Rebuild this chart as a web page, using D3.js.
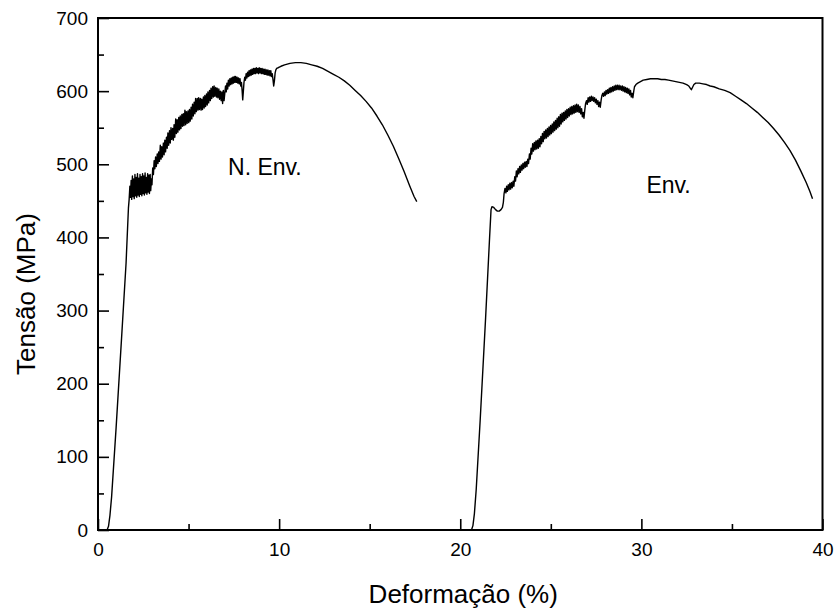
<!DOCTYPE html>
<html>
<head>
<meta charset="utf-8">
<script src="https://cdn.jsdelivr.net/npm/d3@7"></script>
<style>
  body { margin: 0; background: #fff; }
  svg { display: block; font-family: Arial, "Liberation Sans", sans-serif; }
  .tick text { font-size: 19px; fill: #000; }
  .tick line { stroke: #000; stroke-width: 1.6; }
</style>
</head>
<body>
<svg></svg>
<script>
// strain (%) / stress (MPa)
let xTicks = [0, 10, 20, 30, 40],
    yTicks = [0, 100, 200, 300, 400, 500, 600, 700];

let nEnvCurve = [
    [0.50,0],[0.58,5],[0.66,20],[0.75,45],[1.0,140],[1.3,262],[1.55,365],[1.68,440],[1.72,452],
    [1.76,470],[1.79,455],[1.83,478],[1.86,452],[1.90,484],[1.93,456],[1.97,480],[2.00,453],
    [2.04,486],[2.07,457],[2.11,482],[2.14,455],[2.18,487],[2.21,458],[2.25,481],[2.28,456],
    [2.32,486],[2.35,459],[2.39,483],[2.42,457],[2.46,487],[2.49,460],[2.53,484],[2.56,458],
    [2.60,488],[2.63,461],[2.67,482],[2.70,459],[2.74,487],[2.77,462],[2.81,485],[2.84,460],
    [2.88,486],[2.91,464],[2.95,480],[2.98,472],[3.02,495],[3.06,486],[3.10,505],[3.14,494],
    [3.18,510],[3.22,497],[3.27,514],[3.31,501],[3.35,517],[3.39,504],[3.44,526],[3.48,507],
    [3.52,524],[3.56,510],[3.61,529],[3.65,513],[3.69,533],[3.73,517],[3.78,537],[3.82,522],
    [3.86,543],[3.90,526],[3.95,546],[3.99,529],[4.03,550],[4.07,534],[4.12,549],[4.16,533],
    [4.20,554],[4.24,537],[4.29,562],[4.33,542],[4.37,561],[4.41,544],[4.46,564],[4.50,547],
    [4.54,566],[4.58,549],[4.63,568],[4.67,552],[4.71,569],[4.75,553],[4.80,574],[4.84,554],
    [4.88,572],[4.92,556],[4.97,573],[5.01,557],[5.05,575],[5.09,559],[5.14,578],[5.18,562],
    [5.22,582],[5.26,566],[5.31,585],[5.35,569],[5.39,590],[5.43,572],[5.48,590],[5.52,574],
    [5.56,591],[5.60,575],[5.65,590],[5.69,574],[5.73,589],[5.77,575],[5.82,592],[5.86,577],
    [5.90,594],[5.94,579],[5.99,596],[6.03,581],[6.07,599],[6.11,584],[6.16,601],[6.20,587],
    [6.24,604],[6.28,590],[6.33,606],[6.37,592],[6.41,607],[6.45,593],[6.50,605],[6.54,592],
    [6.58,604],[6.62,591],[6.67,603],[6.71,589],[6.75,600],[6.80,587],[6.84,599],[6.88,583],
    [6.92,601],[6.96,587],[7.00,597],[7.04,607],[7.08,599],[7.12,611],[7.16,603],[7.20,615],
    [7.24,607],[7.28,617],[7.32,609],[7.36,618],[7.40,610],[7.44,619],[7.48,611],[7.52,620],
    [7.56,612],[7.60,620],[7.64,612],[7.68,619],[7.72,611],[7.76,618],[7.80,610],[7.84,617],
    [7.88,607],[7.92,612],[7.96,600],[7.99,588],[8.02,598],[8.06,612],[8.10,619],[8.14,615],
    [8.18,624],[8.22,618],[8.26,626],[8.30,620],[8.34,628],[8.38,621],[8.42,629],[8.46,622],
    [8.50,630],[8.54,623],[8.58,631],[8.62,624],[8.66,631],[8.70,624],[8.74,632],[8.78,625],
    [8.82,631],[8.86,624],[8.90,632],[8.94,625],[8.98,631],[9.02,624],[9.06,631],[9.10,624],
    [9.14,630],[9.18,623],[9.22,630],[9.26,623],[9.30,629],[9.34,622],[9.38,629],[9.42,622],
    [9.46,628],[9.50,621],[9.54,628],[9.58,620],[9.62,624],[9.66,616],[9.70,607],[9.74,614],
    [9.78,625],[9.82,629],[9.86,631],[9.95,632],[10.1,634],[10.3,636],[10.6,638],[10.9,639],
    [11.2,639],[11.5,638],[11.8,636],[12.1,634],[12.4,631],[12.7,627],[13.0,623],[13.3,619],
    [13.6,614],[13.9,608],[14.2,601],[14.5,594],[14.8,586],[15.1,577],[15.4,566],[15.7,554],
    [16.0,540],[16.3,525],[16.6,508],[16.9,490],[17.2,471],[17.45,456],[17.6,449]
];

let envCurve = [
    [20.62,0],[20.70,6],[20.78,22],[20.88,55],[21.1,150],[21.4,290],[21.62,400],[21.70,438],
    [21.75,442],[21.85,441],[21.95,438],[22.05,436],[22.15,436],[22.25,438],[22.33,441],
    [22.38,448],[22.42,460],[22.47,467],[22.52,461],[22.56,470],[22.60,463],[22.65,472],
    [22.69,465],[22.74,474],[22.78,466],[22.83,475],[22.87,468],[22.92,477],[22.96,470],
    [23.01,483],[23.05,477],[23.10,491],[23.14,483],[23.19,494],[23.23,487],[23.28,497],
    [23.32,489],[23.37,499],[23.41,492],[23.46,501],[23.50,494],[23.55,503],[23.59,496],
    [23.64,504],[23.68,497],[23.73,507],[23.77,501],[23.82,514],[23.86,507],[23.91,522],
    [23.95,514],[24.00,528],[24.04,518],[24.09,530],[24.13,520],[24.18,532],[24.22,521],
    [24.27,533],[24.31,522],[24.36,535],[24.40,524],[24.45,538],[24.49,528],[24.54,542],
    [24.58,531],[24.63,545],[24.67,535],[24.72,547],[24.76,536],[24.81,549],[24.85,538],
    [24.90,551],[24.94,540],[24.99,553],[25.03,542],[25.08,555],[25.12,544],[25.17,558],
    [25.21,546],[25.26,560],[25.30,548],[25.35,563],[25.39,550],[25.44,565],[25.48,552],
    [25.53,568],[25.57,555],[25.62,570],[25.66,558],[25.71,571],[25.75,560],[25.80,573],
    [25.84,562],[25.89,575],[25.93,564],[25.98,576],[26.02,566],[26.07,578],[26.11,568],
    [26.16,579],[26.20,569],[26.25,580],[26.29,570],[26.34,581],[26.38,571],[26.43,582],
    [26.47,572],[26.52,581],[26.56,571],[26.61,579],[26.65,569],[26.70,576],[26.74,565],
    [26.79,571],[26.83,563],[26.88,575],[26.92,583],[26.97,587],[27.01,582],[27.06,591],
    [27.10,585],[27.15,592],[27.19,586],[27.24,593],[27.28,587],[27.33,592],[27.37,586],
    [27.42,591],[27.46,584],[27.51,589],[27.55,582],[27.60,587],[27.64,579],[27.69,585],
    [27.73,578],[27.78,588],[27.82,594],[27.87,597],[27.91,593],[27.96,599],[28.00,594],
    [28.05,601],[28.09,596],[28.14,602],[28.18,597],[28.23,604],[28.27,598],[28.32,605],
    [28.36,599],[28.41,606],[28.45,600],[28.50,607],[28.54,601],[28.59,608],[28.63,602],
    [28.68,608],[28.72,602],[28.77,608],[28.81,602],[28.86,607],[28.90,601],[28.95,607],
    [28.99,600],[29.04,606],[29.08,599],[29.13,605],[29.17,598],[29.22,604],[29.26,597],
    [29.31,603],[29.35,595],[29.40,601],[29.44,592],[29.49,597],[29.53,591],[29.58,600],
    [29.62,606],[29.70,609],[29.80,611],[29.95,613],[30.1,615],[30.3,616],[30.5,617],
    [30.7,617],[30.9,617],[31.1,616],[31.3,616],[31.5,615],[31.7,614],[31.9,613],[32.1,612],
    [32.3,611],[32.5,609],[32.62,607],[32.70,604],[32.76,602],[32.82,605],[32.90,609],
    [33.0,611],[33.2,611],[33.4,610],[33.6,609],[33.8,607],[34.0,606],[34.3,603],[34.6,601],
    [34.9,598],[35.2,593],[35.5,588],[35.8,583],[36.1,577],[36.4,571],[36.7,564],[37.0,557],
    [37.3,549],[37.6,540],[37.9,530],[38.2,519],[38.5,506],[38.8,491],[39.1,475],[39.3,463],
    [39.45,453]
];

let curveLabels = [
    {text: "N. Env.", strain: 7.18, stress: 485},
    {text: "Env.", strain: 30.28, stress: 461}
];

let svg = d3.select("svg").attr("width", 838).attr("height", 612),
    margin = {top: 18, right: 15.5, bottom: 82, left: 98},
    width = svg.attr("width") - margin.left - margin.right,
    height = svg.attr("height") - margin.top - margin.bottom,
    g = svg.append("g").attr("transform", "translate(" + margin.left + "," + margin.top + ")");

let x = d3.scaleLinear().domain([0, 40]).range([0, width]),
    y = d3.scaleLinear().domain([0, 700]).range([height, 0]);

let line = d3.line()
    .x(function(d) { return x(d[0]); })
    .y(function(d) { return y(d[1]); });

// minor ticks (no labels)
g.append("g")
    .attr("class", "axis minor")
    .attr("transform", "translate(0," + height + ")")
    .call(d3.axisBottom(x).tickValues([5, 15, 25, 35]).tickSizeInner(-6).tickSizeOuter(0).tickFormat(""));

g.append("g")
    .attr("class", "axis minor")
    .call(d3.axisLeft(y).tickValues([50, 150, 250, 350, 450, 550, 650]).tickSizeInner(-6).tickSizeOuter(0).tickFormat(""));

// major ticks
g.append("g")
    .attr("class", "axis axis--x")
    .attr("transform", "translate(0," + height + ")")
    .call(d3.axisBottom(x).tickValues(xTicks).tickSizeInner(-11).tickSizeOuter(0).tickPadding(13).tickFormat(d3.format("d")));

g.append("g")
    .attr("class", "axis axis--y")
    .call(d3.axisLeft(y).tickValues(yTicks).tickSizeInner(-11).tickSizeOuter(0).tickPadding(10).tickFormat(d3.format("d")));

g.selectAll(".axis .domain").remove();
g.selectAll(".axis .tick text").attr("font-family", null).attr("font-size", null);

// frame
g.append("rect")
    .attr("width", width)
    .attr("height", height)
    .attr("fill", "none")
    .attr("stroke", "#000")
    .attr("stroke-width", 2);

// curves
g.selectAll(".curve")
    .data([nEnvCurve, envCurve])
    .enter().append("path")
    .attr("class", "curve")
    .attr("d", line)
    .attr("fill", "none")
    .attr("stroke", "#000")
    .attr("stroke-width", 1.4)
    .attr("stroke-linejoin", "round");

g.selectAll(".curve-label")
    .data(curveLabels)
    .enter().append("text")
    .attr("class", "curve-label")
    .attr("x", function(d) { return x(d.strain); })
    .attr("y", function(d) { return y(d.stress); })
    .style("font-size", "23px")
    .text(function(d) { return d.text; });

// axis titles
svg.append("text")
    .attr("x", margin.left + width / 2 + 3)
    .attr("y", 603)
    .attr("text-anchor", "middle")
    .style("font-size", "26px")
    .text("Deformação (%)");

svg.append("text")
    .attr("transform", "translate(35,294) rotate(-90)")
    .attr("text-anchor", "middle")
    .style("font-size", "26px")
    .text("Tensão (MPa)");
</script>
</body>
</html>
